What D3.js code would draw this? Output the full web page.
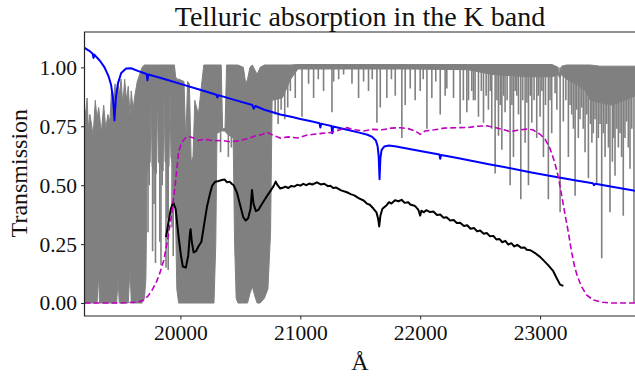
<!DOCTYPE html>
<html>
<head>
<meta charset="utf-8">
<script src="https://cdn.jsdelivr.net/npm/d3@7"></script>
<style>
  body { margin: 0; background: #fff; }
  svg { display: block; font-family: 'Liberation Serif', 'Times New Roman', serif; }
</style>
</head>
<body>
<svg id="chart" width="635" height="378"></svg>
<script>
const xTicks = [20000, 21000, 22000, 23000]
const yTicks = [0, 0.25, 0.5, 0.75, 1]

// telluric transmission, dense parts as an envelope: [wavelength, upper, lower]
const tellBand = [
  [19200, 0.79, 0], [19212, 0.82, 0], [19222, 0.87, 0], [19232, 0.74, 0], [19245, 0.8, 0],
  [19258, 0.76, 0], [19272, 0.71, 0], [19290, 0.86, 0], [19305, 0.78, 0], [19318, 0.83, 0.12],
  [19325, 0.8, 0], [19340, 0.72, 0], [19360, 0.84, 0], [19378, 0.74, 0], [19395, 0.8, 0],
  [19412, 0.77, 0], [19425, 0.9, 0], [19440, 0.86, 0], [19455, 0.93, 0], [19468, 0.82, 0],
  [19480, 0.94, 0.1], [19490, 0.88, 0], [19505, 0.95, 0], [19520, 0.84, 0], [19535, 0.95, 0],
  [19550, 0.86, 0], [19565, 0.92, 0], [19580, 0.79, 0.15], [19590, 0.9, 0], [19605, 0.82, 0],
  [19620, 0.88, 0], [19640, 0.94, 0], [19660, 0.97, 0], [19680, 1.0, 0], [19700, 1.01, 0.02],
  [19712, 1.01, 0.1], [19722, 1.01, 0.55], [19748, 1.01, 0.6], [19756, 1.01, 0.9],
  [19764, 1.01, 0.58], [19800, 1.01, 0.55], [19808, 1.01, 0.9], [19816, 1.01, 0.6],
  [19856, 1.01, 0.56], [19864, 1.01, 0.9], [19872, 1.01, 0.6], [19905, 1.01, 0.58],
  [19913, 1.01, 0.9], [19921, 1.01, 0.62], [19950, 1.01, 0.55], [19960, 0.96, 0.35],
  [19970, 0.95, 0.06], [19985, 0.95, 0],
  [20030, 0.94, 0], [20045, 0.68, 0], [20060, 0.94, 0], [20075, 0.93, 0], [20090, 0.6, 0],
  [20105, 0.62, 0], [20120, 0.86, 0], [20150, 0.8, 0], [20175, 0.92, 0], [20195, 1.01, 0],
  [20280, 1.01, 0], [20295, 1.01, 0.25], [20305, 1.01, 0.72], [20340, 1.01, 0.73],
  [20352, 0.74, 0.73], [20372, 0.74, 0.73], [20385, 1.01, 0.72], [20440, 1.01, 0.7],
  [20452, 1.01, 0.25], [20465, 1.01, 0.02], [20480, 1.01, 0], [20525, 1.0, 0], [20545, 0.93, 0],
  [20560, 0.95, 0], [20580, 1.0, 0.04], [20600, 1.01, 0.07], [20620, 0.99, 0.03], [20640, 0.97, 0],
  [20665, 1.0, 0], [20700, 1.01, 0.02], [20730, 1.01, 0.06], [20752, 1.01, 0.3],
  [20765, 1.01, 0.86], [20850, 1.01, 0.87], [20920, 1.01, 0.95], [20980, 1.012, 0.993],
  [21400, 1.012, 0.993], [21900, 1.012, 0.993], [22400, 1.012, 0.99], [22600, 1.012, 0.97],
  [22900, 1.012, 0.96], [23100, 1.012, 0.96], [23150, 1.0, 0.97], [23165, 0.96, 0.955],
  [23180, 1.005, 0.97], [23220, 1.01, 0.95], [23300, 1.01, 0.93], [23380, 1.01, 0.9],
  [23420, 1.01, 0.86], [23500, 1.005, 0.85], [23600, 1.005, 0.84], [23700, 1.005, 0.86],
  [23800, 1.005, 0.88]
]

// single telluric absorption lines: [wavelength, minimum transmission]
const tellLines = [
  [19730, 0.3], [19740, 0.5], [19768, 0.22], [19780, 0.42], [19792, 0.17], [19828, 0.26],
  [19838, 0.16], [19848, 0.5], [19880, 0.15], [19890, 0.36], [19898, 0.14], [19930, 0.32],
  [19940, 0.2], [19948, 0.42],
  [20335, 0.64], [20400, 0.62], [20425, 0.66],
  [20790, 0.8], [20815, 0.76], [20840, 0.82], [20870, 0.78], [20895, 0.83],
  [20917, 0.9], [20958, 0.87], [21014, 0.79], [21069, 0.93], [21111, 0.87], [21150, 0.95],
  [21194, 0.9], [21264, 0.81], [21278, 0.94], [21320, 0.95], [21361, 0.97], [21431, 0.93],
  [21486, 0.87], [21528, 0.94], [21569, 0.9], [21600, 0.95], [21639, 0.765], [21667, 0.83],
  [21722, 0.87], [21760, 0.95], [21792, 0.88], [21847, 0.7], [21875, 0.84], [21917, 0.91],
  [21958, 0.86], [22000, 0.9], [22025, 0.95], [22056, 0.74], [22097, 0.87], [22130, 0.94],
  [22167, 0.8], [22208, 0.88], [22222, 0.91], [22278, 0.87], [22333, 0.76], [22360, 0.86],
  [22389, 0.81], [22403, 0.86], [22430, 0.9], [22444, 0.86], [22458, 0.86], [22486, 0.79],
  [22510, 0.9], [22528, 0.765], [22550, 0.88], [22569, 0.82], [22585, 0.9], [22597, 0.74],
  [22625, 0.55], [22640, 0.86], [22653, 0.71], [22668, 0.84], [22681, 0.65], [22695, 0.88],
  [22708, 0.81], [22725, 0.86], [22750, 0.5], [22765, 0.84], [22778, 0.62], [22792, 0.9],
  [22806, 0.88], [22820, 0.8], [22839, 0.44], [22855, 0.86], [22875, 0.68], [22890, 0.85],
  [22903, 0.5], [22918, 0.88], [22931, 0.765], [22950, 0.86], [22972, 0.7], [22985, 0.88],
  [23000, 0.79], [23015, 0.9], [23028, 0.62], [23045, 0.84], [23069, 0.44], [23083, 0.86],
  [23097, 0.72], [23125, 0.89], [23140, 0.82], [23167, 0.385], [23194, 0.77], [23215, 0.86],
  [23236, 0.62], [23250, 0.84], [23264, 0.8], [23278, 0.74], [23292, 0.455], [23305, 0.82],
  [23319, 0.7], [23333, 0.78], [23347, 0.83], [23360, 0.74], [23375, 0.64], [23390, 0.8],
  [23403, 0.53], [23420, 0.76], [23432, 0.68], [23444, 0.72], [23458, 0.78], [23472, 0.51],
  [23486, 0.7], [23500, 0.76], [23514, 0.19], [23528, 0.72], [23542, 0.62], [23556, 0.76],
  [23570, 0.66], [23583, 0.385], [23603, 0.6], [23614, 0.7], [23625, 0.54], [23640, 0.74],
  [23653, 0.66], [23667, 0.72], [23680, 0.62], [23694, 0.37], [23708, 0.7], [23722, 0.77],
  [23736, 0.66], [23750, 0.57], [23765, 0.74], [23783, 0]
]

// model continuum (blue)
const modelFlux = [
  [19200, 1.083], [19240, 1.07], [19268, 1.058], [19275, 1.04], [19282, 1.054], [19330, 1.027],
  [19367, 1.0], [19400, 0.963], [19422, 0.925], [19437, 0.87], [19445, 0.82], [19450, 0.775],
  [19455, 0.82], [19464, 0.88], [19478, 0.93], [19506, 0.976], [19547, 0.995], [19589, 0.996],
  [19644, 0.985], [19700, 0.975], [19718, 0.972], [19725, 0.945], [19732, 0.97], [19800, 0.96],
  [19894, 0.946], [20000, 0.93], [20150, 0.907], [20300, 0.884], [20308, 0.872], [20316, 0.882],
  [20450, 0.862], [20600, 0.84], [20612, 0.825], [20625, 0.836], [20700, 0.82], [20833, 0.8],
  [20933, 0.789], [21000, 0.781], [21100, 0.77], [21160, 0.763], [21167, 0.745], [21175, 0.761],
  [21200, 0.758], [21260, 0.751], [21267, 0.72], [21274, 0.749], [21400, 0.734], [21500, 0.722],
  [21560, 0.714], [21600, 0.705], [21630, 0.69], [21645, 0.665], [21654, 0.62], [21661, 0.525],
  [21668, 0.615], [21678, 0.65], [21700, 0.664], [21740, 0.668], [21800, 0.664], [21900, 0.655],
  [22000, 0.645], [22160, 0.63], [22167, 0.612], [22174, 0.628], [22300, 0.616], [22500, 0.596],
  [22583, 0.588], [22700, 0.577], [22917, 0.555], [23100, 0.538], [23300, 0.52], [23440, 0.508],
  [23450, 0.5], [23460, 0.506], [23600, 0.493], [23800, 0.476]
]

// observed spectrum (black)
const starFlux = [
  [19880, 0.28], [19900, 0.34], [19920, 0.4], [19940, 0.427], [19960, 0.4], [19985, 0.28],
  [20005, 0.2], [20020, 0.155], [20045, 0.15], [20065, 0.2], [20080, 0.3], [20085, 0.313],
  [20095, 0.26], [20110, 0.215], [20130, 0.22], [20150, 0.24], [20175, 0.26], [20200, 0.34],
  [20222, 0.41], [20245, 0.46], [20264, 0.497], [20290, 0.515], [20320, 0.518], [20345, 0.522],
  [20368, 0.524], [20390, 0.512], [20410, 0.515], [20430, 0.505], [20444, 0.5], [20472, 0.468],
  [20500, 0.412], [20525, 0.363], [20545, 0.35], [20565, 0.36], [20585, 0.4], [20597, 0.48],
  [20610, 0.42], [20630, 0.39], [20650, 0.395], [20680, 0.42], [20722, 0.454], [20750, 0.475],
  [20778, 0.497], [20795, 0.515], [20810, 0.5], [20833, 0.486], [20860, 0.49], [20875, 0.494],
  [20900, 0.488], [20925, 0.497], [20950, 0.494], [20975, 0.502], [21000, 0.498], [21025, 0.506],
  [21050, 0.5], [21075, 0.507], [21100, 0.503], [21139, 0.512], [21170, 0.503], [21200, 0.506],
  [21230, 0.496], [21250, 0.498], [21275, 0.488], [21300, 0.49], [21340, 0.478], [21389, 0.47],
  [21420, 0.462], [21450, 0.457], [21490, 0.444], [21528, 0.435], [21555, 0.422], [21580, 0.417],
  [21611, 0.4], [21635, 0.385], [21650, 0.355], [21658, 0.325], [21668, 0.37], [21685, 0.4],
  [21720, 0.415], [21740, 0.428], [21760, 0.422], [21790, 0.436], [21819, 0.432], [21845, 0.438],
  [21870, 0.425], [21900, 0.428], [21917, 0.418], [21945, 0.414], [21960, 0.41], [21985, 0.395],
  [22000, 0.371], [22010, 0.392], [22030, 0.385], [22050, 0.394], [22083, 0.386], [22110, 0.388],
  [22140, 0.374], [22167, 0.376], [22195, 0.362], [22220, 0.364], [22250, 0.35], [22280, 0.352],
  [22305, 0.34], [22333, 0.341], [22365, 0.327], [22392, 0.33], [22420, 0.315], [22450, 0.318],
  [22475, 0.304], [22500, 0.308], [22530, 0.294], [22555, 0.297], [22583, 0.283], [22610, 0.285],
  [22635, 0.27], [22660, 0.272], [22685, 0.258], [22710, 0.264], [22735, 0.248], [22760, 0.254],
  [22785, 0.24], [22810, 0.247], [22840, 0.235], [22870, 0.236], [22889, 0.226], [22920, 0.224],
  [22958, 0.212], [23000, 0.196], [23035, 0.178], [23069, 0.16], [23110, 0.135], [23140, 0.104],
  [23167, 0.078], [23194, 0.073]
]

// K filter transmission (magenta dashed)
const filterCurve = [
  [19200, 0], [19500, 0], [19650, 0.004], [19694, 0.013], [19730, 0.03], [19764, 0.055],
  [19800, 0.09], [19830, 0.13], [19861, 0.18], [19894, 0.27], [19931, 0.39], [19958, 0.51],
  [19986, 0.645], [20010, 0.68], [20040, 0.7], [20070, 0.707], [20110, 0.7], [20150, 0.69],
  [20200, 0.695], [20278, 0.688], [20350, 0.69], [20420, 0.684], [20480, 0.688], [20556, 0.697],
  [20630, 0.71], [20680, 0.715], [20722, 0.725], [20760, 0.715], [20833, 0.7], [20900, 0.705],
  [20980, 0.7], [21050, 0.712], [21111, 0.716], [21180, 0.72], [21250, 0.723], [21330, 0.735],
  [21389, 0.744], [21450, 0.735], [21528, 0.73], [21600, 0.737], [21680, 0.735], [21760, 0.742],
  [21833, 0.744], [21900, 0.74], [21960, 0.73], [22000, 0.716], [22040, 0.73], [22120, 0.735],
  [22200, 0.742], [22300, 0.744], [22400, 0.745], [22470, 0.75], [22556, 0.752], [22620, 0.745],
  [22700, 0.735], [22750, 0.727], [22810, 0.733], [22889, 0.738], [22940, 0.735], [22970, 0.725],
  [23000, 0.716], [23042, 0.695], [23083, 0.655], [23120, 0.6], [23150, 0.54], [23181, 0.455],
  [23210, 0.37], [23236, 0.3], [23260, 0.225], [23285, 0.16], [23310, 0.115], [23347, 0.068],
  [23390, 0.033], [23444, 0.013], [23520, 0.003], [23600, 0], [23800, 0]
]

const c = {
  width: 635,
  height: 378,
  margin: { top: 32, right: -1, bottom: 62, left: 84.5 },
  xDomain: [19200, 23800],
  yDomain: [-0.055, 1.15],
  tickSize: 3.5,
  fontTick: 21.5,
  fontLabel: 24,
  fontTitle: 28,
}

const svg = d3.select('#chart')
const plotW = c.width - c.margin.left - c.margin.right
const plotB = c.height - c.margin.bottom

const x = d3.scaleLinear(c.xDomain, [c.margin.left, c.width - c.margin.right])
const y = d3.scaleLinear(c.yDomain, [plotB, c.margin.top])

svg.append('defs')
  .append('clipPath')
  .attr('id', 'plot-clip')
  .append('rect')
  .attr('x', c.margin.left)
  .attr('y', c.margin.top)
  .attr('width', plotW)
  .attr('height', plotB - c.margin.top)

const plot = svg.append('g').attr('clip-path', 'url(#plot-clip)')

// Telluric spectrum
plot.append('path')
  .datum(tellBand)
  .attr('fill', '#808080')
  .attr('stroke', '#808080')
  .attr('stroke-width', 1)
  .attr('d', d3.area().x((d) => x(d[0])).y0((d) => y(d[2])).y1((d) => y(d[1])))

plot.append('g')
  .selectAll('line')
  .data(tellLines)
  .join('line')
  .attr('x1', (d) => x(d[0]))
  .attr('x2', (d) => x(d[0]))
  .attr('y1', y(1.0))
  .attr('y2', (d) => y(d[1]))
  .attr('stroke', '#808080')
  .attr('stroke-width', 1.6)

const line = d3.line().x((d) => x(d[0])).y((d) => y(d[1]))

plot.append('path')
  .datum(modelFlux)
  .attr('fill', 'none')
  .attr('stroke', '#0000ff')
  .attr('stroke-width', 2)
  .attr('stroke-linejoin', 'round')
  .attr('d', line)

plot.append('path')
  .datum(starFlux)
  .attr('fill', 'none')
  .attr('stroke', '#000')
  .attr('stroke-width', 2)
  .attr('stroke-linejoin', 'round')
  .attr('d', line)

plot.append('path')
  .datum(filterCurve)
  .attr('fill', 'none')
  .attr('stroke', '#bf00bf')
  .attr('stroke-width', 1.6)
  .attr('stroke-dasharray', '6,3')
  .attr('d', line)

// Axes
svg.append('g')
  .attr('transform', `translate(0,${ plotB })`)
  .call(d3.axisBottom(x).tickValues(xTicks).tickFormat(d3.format('d')).tickSize(c.tickSize).tickPadding(5))

svg.append('g')
  .attr('transform', `translate(${ c.margin.left },0)`)
  .call(d3.axisLeft(y).tickValues(yTicks).tickFormat(d3.format('.2f')).tickSize(c.tickSize).tickPadding(4))

svg.selectAll('.domain').remove()
svg.selectAll('.tick line').attr('stroke', '#262626').attr('stroke-width', 1)
svg.selectAll('.tick text')
  .attr('fill', '#111')
  .style('font-family', "'Liberation Serif', serif")
  .style('font-size', `${ c.fontTick }px`)

// frame: left, bottom, top (right spine falls outside the picture)
svg.append('path')
  .attr('fill', 'none')
  .attr('stroke', '#262626')
  .attr('stroke-width', 1.2)
  .attr('d', `M${ c.width + 2 },${ c.margin.top }H${ c.margin.left }V${ plotB }H${ c.width + 2 }`)

svg.append('text')
  .attr('x', 360)
  .attr('y', 26)
  .attr('text-anchor', 'middle')
  .attr('font-size', c.fontTitle)
  .attr('fill', '#111')
  .text('Telluric absorption in the K band')

svg.append('text')
  .attr('x', 360)
  .attr('y', 370)
  .attr('text-anchor', 'middle')
  .attr('font-size', c.fontLabel)
  .attr('fill', '#111')
  .text('Å')

svg.append('text')
  .attr('transform', `translate(27,${ y(0.5) - 12 }) rotate(-90)`)
  .attr('text-anchor', 'middle')
  .attr('font-size', c.fontLabel)
  .attr('fill', '#111')
  .text('Transmission')
</script>
</body>
</html>
